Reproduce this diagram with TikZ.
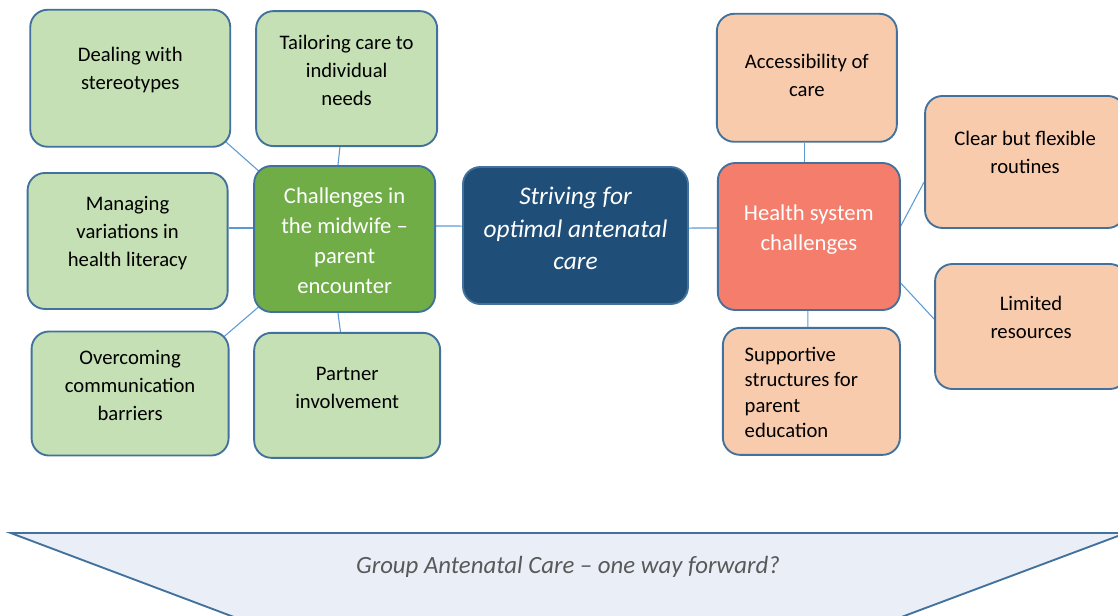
\documentclass[tikz,border=0pt]{standalone}
\usepackage{fontspec}
\setmainfont{Carlito}
\definecolor{EdgeBlue}{RGB}{65,113,156}
\definecolor{LinkBlue}{RGB}{91,155,213}
\definecolor{LeafGreen}{RGB}{197,224,180}
\definecolor{HubGreen}{RGB}{112,173,71}
\definecolor{CoreBlue}{RGB}{31,78,121}
\definecolor{Peach}{RGB}{248,203,173}
\definecolor{Coral}{RGB}{244,125,107}
\definecolor{BandFill}{RGB}{234,239,247}
\definecolor{BandText}{RGB}{89,89,89}
\usetikzlibrary{positioning,backgrounds}

\begin{document}
\begin{tikzpicture}[
    x=0.75pt, y=-0.75pt,
    box/.style={draw=EdgeBlue, line width=1.4pt, rounded corners=13pt, align=flush center,
                inner sep=3pt, text width=120pt, font=\fontsize{15.5}{21}\selectfont},
    dim/.style 2 args={minimum width=#1, minimum height=#2},
    lift/.style={text height=0pt, text depth=#1},
    leaf/.style={box, fill=LeafGreen},
    cost/.style={box, fill=Peach},
    hub/.style={box, text=white, font=\fontsize{17}{22.5}\selectfont},
    link/.style={LinkBlue, line width=0.8pt}
  ]
    \useasboundingbox (0,0) rectangle (1118,615);
    \clip (0,0) rectangle (1118,615);

    % Middle row
    \node[hub, fill=CoreBlue, dim={168.75pt}{102.75pt}, lift=46.2pt, text width=150pt,
          font=\fontsize{19}{24.4}\selectfont\itshape] (core) at (575.5,235.5)
          {Striving for\\optimal antenatal\\care};
    \node[hub, fill=HubGreen, dim={135.75pt}{109.5pt}, lift=53pt,
          left=19.5pt of core, yshift=-2.6pt] (meet)
          {Challenges in\\the midwife --\\parent\\encounter};
    \node[hub, fill=Coral, dim={136.5pt}{110.25pt}, lift=24pt,
          right=21pt of core, yshift=-0.75pt] (sys)
          {Health system\\challenges};

    % Midwife - parent side
    \node[leaf, dim={135.75pt}{101.25pt}, lift=43.5pt, above=13.5pt of meet, xshift=1.5pt] (tailor)
          {Tailoring care to\\individual\\needs};
    \node[leaf, dim={139.5pt}{93.75pt}, lift=23pt, below=14.25pt of meet, xshift=1.9pt] (partner)
          {Partner\\involvement};
    \node[leaf, dim={150pt}{102pt}, lift=45pt, left=18.5pt of meet, yshift=-1.5pt] (manage)
          {Managing\\variations in\\health literacy};
    \node[leaf, dim={150pt}{102.75pt}, lift=25pt, above left=13pt and 16.5pt of meet] (deal)
          {Dealing with\\stereotypes};
    \node[leaf, dim={147.75pt}{93pt}, lift=43.5pt, below left=13.25pt and 17.75pt of meet] (overcome)
          {Overcoming\\communication\\barriers};

    % Health system side
    \node[cost, dim={135pt}{96pt}, lift=13.5pt, above=14.5pt of sys, xshift=-1.5pt] (access)
          {Accessibility of\\care};
    \node[cost, dim={132.75pt}{95.25pt}, lift=45pt, text width=100pt, inner xsep=16.4pt,
          align=flush left, font=\fontsize{15.5}{19}\selectfont,
          below=12pt of sys, xshift=1.9pt] (support)
          {Supportive\\structures for\\parent\\education};
    \node[cost, dim={150pt}{99pt}, lift=24pt, right=17.5pt of sys, yshift=55.9pt] (routine)
          {Clear but flexible\\routines};
    \node[cost, dim={144pt}{93.75pt}, lift=23.5pt, right=25pt of sys, yshift=-67.5pt] (limit)
          {Limited\\resources};

    \begin{scope}[on background layer]
      \draw[link] ([shift={(-7pt,7pt)}]deal.south east) -- ([shift={(7pt,-7pt)}]meet.north west);
      \draw[link] ([shift={(-7pt,-7pt)}]overcome.north east) -- ([shift={(7pt,7pt)}]meet.south west);
      \draw[link] ([xshift=-5pt]tailor.south) -- ([xshift=-5pt]meet.north);
      \draw[link] ([xshift=-5pt]partner.north) -- ([xshift=-5pt]meet.south);
      \draw[link] ([yshift=9.75pt]manage.east) -- ([yshift=8.25pt]meet.west);
      \draw[link] ([yshift=9.75pt]meet.east) -- ([yshift=7.1pt]core.west);
      \draw[link] ([yshift=5.6pt]core.east) -- ([yshift=6.4pt]sys.west);
      \draw[link] ([xshift=-1.5pt]access.south) -- ([xshift=-3pt]sys.north);
      \draw[link] ([xshift=-2.6pt]support.north) -- ([xshift=-0.75pt]sys.south);
      \draw[link] ([yshift=7.9pt]sys.east) -- ([yshift=-15pt]routine.west);
      \draw[link] ([yshift=-35pt]sys.east) -- ([yshift=5.6pt]limit.west);
    \end{scope}

    % Band along the bottom
    \draw[fill=BandFill, draw=EdgeBlue, line width=1.4pt]
      (10.7,533) -- (1126,533) -- (840,640) -- (295,640) -- cycle;
    \node[text=BandText, font=\fontsize{18.6}{22}\selectfont\itshape] (way) at (568,567)
      {Group Antenatal Care -- one way forward?};
\end{tikzpicture}
\end{document}
